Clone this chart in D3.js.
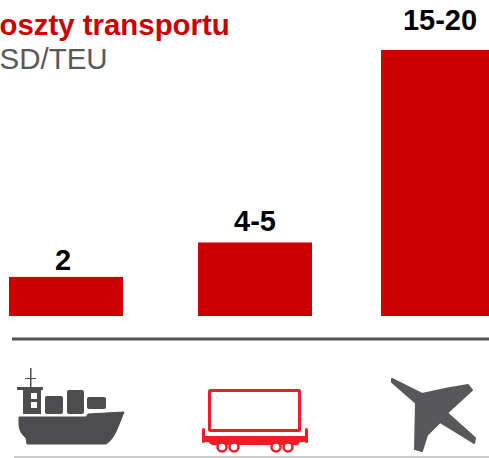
<!DOCTYPE html>
<html><head><meta charset="utf-8">
<script src="https://cdnjs.cloudflare.com/ajax/libs/d3/7.9.0/d3.min.js"></script>
<style>html,body{margin:0;padding:0;background:#fff;overflow:hidden}svg{display:block}text{font-family:"Liberation Sans",Arial,sans-serif}</style>
</head><body><script>
const categories = ["Statek", "Kolej", "Samolot"];
const values = [2.5, 4.7, 17];
const valueLabels = ["2", "4-5", "15-20"];
const labelOffsetX = [-3, 0, 2];
const labelOffsetY = [-7, -11, -20];
const titleText = "oszty transportu";
const unitText = "SD/TEU";

const W = 489, H = 458;
const svg = d3.select("body").append("svg").attr("width", W).attr("height", H);
const x = d3.scaleOrdinal().domain(categories).range([66, 255, 438]);
const y = d3.scaleLinear().domain([0, 17]).range([316, 50]);
const barW = 114, red = "#cc0000", grey = "#4d4d4f";

svg.selectAll("rect.bar").data(categories).join("rect").attr("class", "bar")
  .attr("x", d => x(d) - barW / 2).attr("width", barW)
  .attr("y", (d, i) => y(values[i])).attr("height", (d, i) => y(0) - y(values[i]))
  .attr("fill", red);

svg.selectAll("text.val").data(categories).join("text").attr("class", "val")
  .attr("x", (d, i) => x(d) + labelOffsetX[i]).attr("y", (d, i) => y(values[i]) + labelOffsetY[i])
  .attr("text-anchor", "middle").attr("font-size", 29).attr("font-weight", "bold").attr("fill", "#000")
  .text((d, i) => valueLabels[i]);

svg.append("text").attr("x", -0.5).attr("y", 35).attr("font-size", 29.4).attr("font-weight", "bold").attr("fill", red).text(titleText);
svg.append("text").attr("x", -0.5).attr("y", 69).attr("font-size", 29.5).attr("fill", "#595959").text(unitText);

svg.append("line").attr("x1", 12).attr("x2", W).attr("y1", 339).attr("y2", 339).attr("stroke", "#555").attr("stroke-width", 3);
svg.append("line").attr("x1", 14).attr("x2", W).attr("y1", 457).attr("y2", 457).attr("stroke", "#999").attr("stroke-width", 1);

// ship
const ship = svg.append("g").attr("fill", grey);
ship.append("path").attr("stroke", grey).attr("stroke-width", 1).attr("stroke-linejoin", "round")
  .attr("d", "M19 417H86L88 414L124 412L118 427Q113 440 106 444H27L26 438Q19 432 19 425Z");
ship.append("path").attr("fill-rule", "evenodd")
  .attr("d", "M23 390H17V387H30V379H25V378H30V368H31.500V378H36V379H31.500V387H43V390H41V414H23ZM31 393V399H37V393ZM31 402V408H37V402Z");
ship.append("rect").attr("x", 45).attr("y", 396).attr("width", 18).attr("height", 18).attr("rx", 2);
ship.append("rect").attr("x", 67).attr("y", 390).attr("width", 17).attr("height", 24).attr("rx", 2);
ship.append("rect").attr("x", 87).attr("y", 397).attr("width", 19).attr("height", 12).attr("rx", 2);

// wagon
const tr = "#ee1c25";
const train = svg.append("g");
train.append("rect").attr("x", 209.500).attr("y", 390.500).attr("width", 90).attr("height", 40).attr("rx", 1).attr("fill", "none").attr("stroke", tr).attr("stroke-width", 3);
train.append("path").attr("fill", tr).attr("d", "M204 436H306V442H300L298 445H212L208 442H204Z");
train.append("rect").attr("x", 202).attr("y", 428).attr("width", 3).attr("height", 15).attr("rx", 1.500).attr("fill", tr);
train.append("rect").attr("x", 305).attr("y", 428).attr("width", 3).attr("height", 15).attr("rx", 1.500).attr("fill", tr);
train.selectAll("circle").data([222, 234, 276, 288]).join("circle").attr("cx", d => d).attr("cy", 447).attr("r", 4.500).attr("fill", "#fff").attr("stroke", tr).attr("stroke-width", 2.500);

// plane
svg.append("path").attr("fill", "#58585a").attr("stroke", "#58585a").attr("stroke-width", 2).attr("stroke-linejoin", "round")
  .attr("d", "M392 379L404 385L422 394L445 389L468 385L472 390L447 413L475 438L474 443L440 422L427 435L422 451L415 449L416 403L392 382Z");
</script></body></html>
